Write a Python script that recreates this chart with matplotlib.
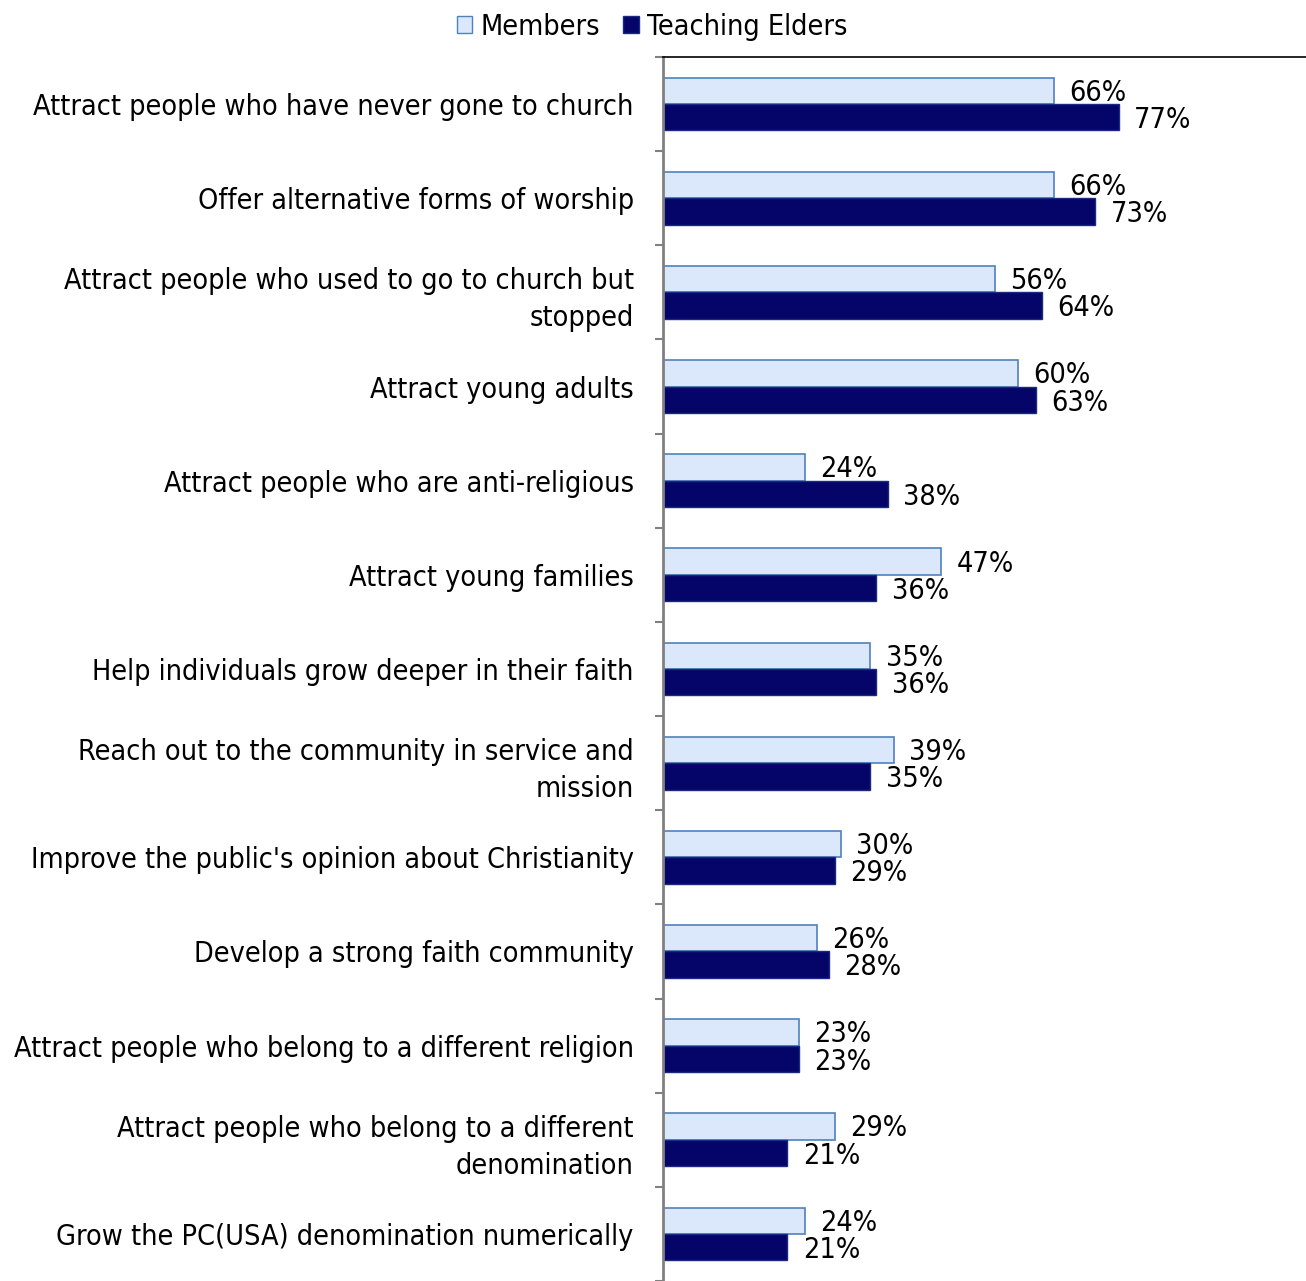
import matplotlib
matplotlib.use("Agg")
import matplotlib.pyplot as plt
from matplotlib.patches import Patch
import numpy as np

categories = [
    "Attract people who have never gone to church",
    "Offer alternative forms of worship",
    "Attract people who used to go to church but\nstopped",
    "Attract young adults",
    "Attract people who are anti-religious",
    "Attract young families",
    "Help individuals grow deeper in their faith",
    "Reach out to the community in service and\nmission",
    "Improve the public's opinion about Christianity",
    "Develop a strong faith community",
    "Attract people who belong to a different religion",
    "Attract people who belong to a different\ndenomination",
    "Grow the PC(USA) denomination numerically",
]
members = [66, 66, 56, 60, 24, 47, 35, 39, 30, 26, 23, 29, 24]
elders = [77, 73, 64, 63, 38, 36, 36, 35, 29, 28, 23, 21, 21]

plt.rcParams['font.family'] = ['DejaVu Sans']
FS = 20.6

fig = plt.figure(figsize=(13.06, 12.81), dpi=100)
ax = fig.add_axes([663 / 1306, 0.0, 1 - 663 / 1306, 1 - 57 / 1281])

y = np.arange(len(categories))
h = 0.28
ax.barh(y - h / 2, members, height=h, color="#dbe8fc", edgecolor="#4f81bd", linewidth=1.2)
ax.barh(y + h / 2, elders, height=h, color="#050569", edgecolor="#1a2a80", linewidth=1.0)

# percentage labels just past the end of each bar
for i in range(len(categories)):
    ax.text(members[i] + 2.6, y[i] - h / 2 + 0.02, f"{members[i]}%", va="center", ha="left",
            fontsize=FS, fontstretch="condensed")
    ax.text(elders[i] + 2.6, y[i] + h / 2 + 0.03, f"{elders[i]}%", va="center", ha="left",
            fontsize=FS, fontstretch="condensed")

ax.set_xlim(0, 108.6)
ax.set_ylim(12.44, -0.5)
ax.set_xticks([])
ax.set_yticks(y)
ax.set_yticklabels(categories, fontsize=FS, fontstretch="condensed", ha="right",
                   multialignment="right", linespacing=1.4)
ax.tick_params(axis="y", which="major", length=0, pad=21)
ax.set_yticks(np.arange(-0.5, len(categories), 1.0), minor=True)
ax.tick_params(axis="y", which="minor", length=6, width=1.5, color="#808080", direction="out")

ax.spines["right"].set_visible(False)
ax.spines["bottom"].set_visible(False)
ax.spines["left"].set_color("#808080")
ax.spines["left"].set_linewidth(2)
ax.spines["top"].set_color("black")
ax.spines["top"].set_linewidth(1.2)

handles = [Patch(facecolor="#dbe8fc", edgecolor="#4f81bd", label="Members"),
           Patch(facecolor="#050569", edgecolor="#1a2a80", label="Teaching Elders")]
fig.legend(handles=handles, loc="center", bbox_to_anchor=(652 / 1306, 1 - 27 / 1281), ncol=2,
           frameon=False, prop={"size": FS, "stretch": "condensed"}, handlelength=0.55, handleheight=0.55,
           handletextpad=0.28, columnspacing=0.8, borderaxespad=0)

fig.savefig("out.png", dpi=100)
